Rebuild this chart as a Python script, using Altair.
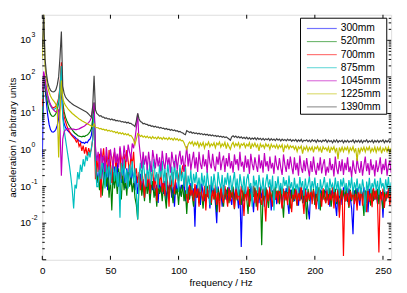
import altair as alt
import pandas as pd

# frequency grid (Hz), 1 Hz steps
FREQ = list(range(0, 257))

SERIES = ["300mm", "520mm", "700mm", "875mm", "1045mm", "1225mm", "1390mm"]
COLORS = ["#0000ff", "#008000", "#ff0000", "#00bfbf", "#bf00bf", "#bfbf00", "#404040"]

# log10 of acceleration amplitude (0..40 Hz, then 41..256 Hz)
LOG_300 = [
    -0.2, 2.0, 1.7, 1.3, 0.95, 0.7, 0.56, 0.5, 0.49, 0.51, 0.57, 0.68, 0.86, 1.2, 1.7, 0.95, 0.72, 0.62, 0.56, 0.52,
    0.48, 0.45, 0.41, 0.38, 0.35, 0.31, 0.29, 0.25, 0.24, 0.2, 0.21, 0.18, 0.22, 0.2, 0.27, 0.3, 0.4, 0.7, 1.2, -0.3, -0.6,
    -0.90, -0.45, -1.05, -0.60, -0.35, -0.85, -0.50, -1.10, -0.40, -0.75, -0.55, -0.95,
    -0.45, -0.80, -0.35, -1.00, -0.60, -0.90, -0.40, -0.70, -1.05, -0.50, -0.85, -0.45,
    -0.95, -0.55, -0.80, -1.10, -0.70, -1.20, -0.90, -0.65, -1.15, -0.80, -1.30, -0.75,
    -1.05, -0.80, -1.35, -0.85, -1.10, -0.75, -1.25, -0.95, -1.45, -0.82, -1.15, -0.90,
    -1.20, -0.85, -1.40, -0.95, -1.10, -0.80, -1.30, -1.00, -1.55, -0.88, -1.18, -0.92,
    -1.25, -0.95, -1.10, -0.85, -1.40, -1.20, -1.00, -1.35, -0.90, -1.25, -1.05, -2.10,
    -0.95, -1.30, -1.05, -1.50, -0.92, -1.20, -1.40, -0.98, -1.28, -1.10, -1.60, -0.95,
    -1.25, -1.05, -1.45, -2.00, -1.00, -1.30, -1.12, -1.55, -0.96, -1.35, -1.08, -1.42,
    -1.00, -1.28, -1.50, -1.05, -1.35, -0.98, -1.22, -1.60, -1.08, -2.65, -1.15, -1.40,
    -1.02, -1.30, -1.10, -1.48, -0.98, -1.25, -1.70, -1.05, -1.35, -1.12, -1.45, -1.00,
    -1.32, -1.08, -1.55, -1.02, -1.28, -1.40, -1.00, -1.65, -1.10, -1.30, -1.05, -1.48,
    -1.12, -1.36, -1.00, -1.58, -1.15, -1.30, -1.04, -1.42, -1.75, -1.08, -1.32, -1.02,
    -1.40, -1.06, -1.28, -1.52, -1.02, -1.35, -1.10, -1.45, -1.05, -1.30, -1.60, -1.90,
    -1.05, -1.35, -1.12, -1.48, -1.00, -1.30, -1.62, -1.08, -1.40, -1.15, -1.28, -1.02,
    -1.38, -1.06, -1.55, -1.10, -1.30, -1.04, -1.45, -1.80, -1.08, -1.32, -1.12, -1.50,
    -1.02, -1.35, -1.15, -1.42, -1.05, -1.30, -1.60, -2.30, -1.10, -1.38, -1.04, -1.28,
    -1.52, -1.08, -1.35, -1.02, -1.45, -1.12, -1.70, -1.06, -1.30, -1.40, -1.04, -1.36,
    -1.10, -1.48, -1.02, -1.32, -1.15, -1.85, -1.06, -1.40, -1.12, -1.28, -1.05, -1.42,
]
LOG_520 = [
    0.8, 2.0, 1.8, 1.5, 1.25, 1.08, 0.98, 0.93, 0.92, 0.94, 1.0, 1.1, 1.3, 1.65, 2.3, 1.3, 1.05, 0.9, 0.8, 0.72,
    0.65, 0.6, 0.55, 0.5, 0.46, 0.43, 0.4, 0.38, 0.37, 0.36, 0.38, 0.37, 0.4, 0.41, 0.45, 0.5, 0.58, 0.85, 1.3, -0.2, -0.9,
    -0.70, -1.10, -0.55, -1.25, -0.80, -0.45, -1.00, -0.65, -1.30, -0.75, -1.65, -0.60,
    -1.05, -0.70, -1.20, -0.50, -0.95, -1.35, -0.65, -1.10, -0.80, -1.25, -0.60, -1.00,
    -0.75, -1.15, -0.85, -1.30, -1.50, -1.90, -1.00, -0.80, -1.25, -0.90, -1.40, -0.85,
    -1.20, -0.90, -1.45, -1.00, -0.85, -1.30, -1.05, -1.55, -0.92, -1.20, -1.00, -1.40,
    -0.95, -1.25, -1.60, -1.00, -1.30, -0.90, -1.15, -1.45, -0.98, -1.22, -1.05, -1.50,
    -1.00, -1.28, -0.95, -1.40, -1.10, -1.75, -1.05, -1.35, -0.98, -1.25, -1.55, -1.02,
    -1.30, -1.05, -1.45, -1.00, -1.25, -1.60, -1.08, -1.38, -0.98, -1.32, -1.12, -1.50,
    -1.02, -1.35, -1.15, -1.70, -1.05, -1.40, -1.00, -1.28, -1.55, -1.08, -1.36, -1.02,
    -1.45, -1.10, -1.30, -1.00, -1.62, -1.12, -1.38, -1.05, -1.25, -1.50, -1.02, -1.40,
    -1.08, -1.32, -1.75, -1.06, -1.40, -1.15, -1.28, -1.02, -1.55, -1.10, -1.35, -1.05,
    -2.60, -1.15, -1.40, -1.02, -1.30, -1.58, -1.08, -1.36, -1.12, -1.45, -1.00, -1.30,
    -1.10, -1.48, -1.05, -1.35, -1.85, -1.12, -1.38, -1.04, -1.28, -1.60, -1.08, -1.42,
    -1.05, -1.30, -1.52, -1.10, -1.38, -1.02, -1.45, -1.15, -1.32, -1.90, -1.06, -1.40,
    -1.12, -1.35, -1.05, -1.50, -1.18, -1.40, -1.02, -1.65, -1.10, -1.36, -1.08, -1.45,
    -1.15, -1.38, -1.04, -1.55, -1.20, -1.32, -1.06, -1.48, -1.12, -1.70, -1.05, -1.35,
    -1.10, -1.42, -1.02, -1.30, -1.58, -1.08, -1.40, -1.15, -1.35, -1.05, -1.50, -1.12,
    -1.38, -1.04, -1.32, -1.80, -1.10, -1.45, -1.06, -1.30, -1.52, -1.08, -1.40, -1.12,
    -1.35, -1.06, -1.48, -1.10, -1.32, -1.62, -1.05, -1.40, -1.15, -1.30, -1.08, -1.45,
]
LOG_700 = [
    1.2, 2.05, 1.85, 1.6, 1.42, 1.3, 1.22, 1.18, 1.16, 1.17, 1.2, 1.28, 1.42, 1.75, 2.4, 1.2, 0.92, 0.78, 0.66, 0.57,
    0.5, 0.43, 0.38, 0.34, 0.3, 0.22, 0.28, 0.1, 0.18, -0.02, 0.12, -0.1, 0.08, -0.15, 0.05, -0.08, 0.02, 0.3, 0.9, -0.8, -0.2,
    -0.60, -0.10, -1.30, -0.25, 0.05, -0.45, -0.15, -0.70, 0.00, -0.35, -0.90, -0.20,
    -0.05, -0.55, -0.15, -0.40, 0.05, -0.80, -0.25, -0.10, -0.50, 0.00, -0.30, -0.65,
    -0.15, -0.40, -0.05, -0.70, -0.50, -0.90, -0.60, -1.10, -0.55, -0.85, -1.30, -0.65,
    -1.00, -0.60, -1.20, -0.75, -0.55, -1.05, -0.70, -1.40, -0.65, -0.95, -0.58, -1.15,
    -0.80, -1.25, -0.62, -0.90, -1.55, -0.70, -1.00, -0.60, -1.20, -0.75, -0.55, -0.85,
    -0.50, -0.70, -0.42, -0.60, -0.40, -1.30, -1.45, -0.95, -1.25, -1.00, -1.40, -0.92,
    -1.30, -1.00, -1.55, -0.95, -1.20, -1.40, -0.98, -1.65, -1.05, -1.30, -0.95, -1.45,
    -1.10, -1.35, -0.96, -1.50, -1.15, -1.70, -1.00, -1.30, -1.45, -0.98, -1.25, -1.55,
    -1.05, -1.40, -0.97, -1.30, -1.60, -1.02, -1.35, -1.15, -1.50, -0.98, -1.25, -1.80,
    -1.08, -1.38, -1.00, -1.55, -1.20, -1.32, -0.98, -1.45, -1.10, -1.65, -1.02, -1.30,
    -1.50, -1.05, -1.35, -1.95, -1.08, -1.40, -1.00, -1.28, -1.55, -1.06, -1.36, -1.12,
    -1.45, -1.02, -1.30, -1.60, -1.05, -1.38, -1.15, -1.50, -0.98, -1.32, -1.70, -1.08,
    -1.35, -1.05, -1.52, -1.12, -1.40, -1.00, -1.30, -1.75, -1.08, -1.42, -1.15, -1.36,
    -1.02, -1.48, -1.10, -1.35, -1.62, -1.05, -1.40, -1.18, -1.55, -1.04, -1.32, -1.45,
    -1.08, -1.50, -1.20, -1.38, -1.02, -1.60, -1.15, -1.42, -1.06, -1.85, -1.25, -1.10,
    -2.90, -1.20, -1.40, -1.05, -1.55, -1.12, -1.36, -1.02, -1.48, -1.20, -1.65, -1.08,
    -1.38, -1.05, -1.52, -1.15, -1.30, -1.70, -1.06, -1.42, -1.18, -1.56, -1.04, -1.35,
    -1.10, -1.45, -2.80, -1.12, -1.38, -1.05, -1.58, -1.20, -1.32, -1.04, -1.50, -1.15,
]
LOG_875 = [
    1.4, 2.1, 1.9, 1.65, 1.45, 1.32, 1.22, 1.15, 1.12, 1.12, 1.15, 1.22, 1.35, 1.7, 2.3, 0.9, 0.55, 0.3, 0.05, -0.2,
    -0.45, -0.75, -1.1, -1.6, -0.95, -1.05, -0.6, -0.8, -0.4, -0.6, -0.25, -0.45, -0.15, -0.3, -0.05, -0.2, 0.05, 0.3, 1.0, -0.4, -1.0,
    -1.00, -0.35, -0.80, -0.20, -0.65, -1.05, -0.40, -0.75, -0.25, -0.95, -0.50, -0.30,
    -0.85, -0.45, -1.00, -0.60, -1.85, -0.35, -0.70, -0.25, -0.90, -0.55, -1.05, -0.40,
    -0.75, -0.30, -0.90, -0.50, -1.20, -1.90, -0.70, -0.35, -0.85, -0.25, -0.65, -1.00,
    -0.45, -0.80, -0.30, -0.95, -0.55, -0.25, -0.85, -0.60, -1.05, -0.40, -0.75, -0.30,
    -0.90, -0.50, -1.10, -0.35, -0.70, -0.95, -0.45, -1.00, -0.30, -0.80, -0.55, -1.15,
    -0.40, -0.85, -0.60, -1.00, -0.45, -1.20, -0.70, -0.95, -0.55, -1.10, -0.65, -0.90,
    -0.60, -1.05, -0.75, -1.15, -0.62, -0.98, -0.70, -1.20, -0.58, -0.90, -1.50, -0.72,
    -1.10, -0.65, -0.95, -1.18, -0.60, -0.88, -1.05, -0.68, -1.22, -0.75, -0.95, -0.62,
    -1.00, -0.70, -1.15, -0.85, -0.60, -1.08, -0.78, -1.25, -0.66, -0.92, -1.10, -0.72,
    -1.20, -0.80, -0.65, -1.05, -0.90, -1.55, -0.70, -1.00, -0.82, -1.18, -0.68, -0.95,
    -1.10, -0.75, -1.25, -0.88, -0.66, -1.02, -0.80, -1.15, -0.70, -1.65, -0.85, -1.05,
    -0.72, -1.12, -0.90, -1.20, -0.74, -0.98, -0.82, -1.15, -0.70, -1.05, -0.88, -1.22,
    -0.76, -1.08, -0.92, -1.18, -0.74, -1.02, -0.85, -1.25, -0.78, -1.10, -0.95, -0.72,
    -1.15, -0.85, -1.05, -0.75, -1.20, -0.90, -1.60, -0.80, -1.08, -0.95, -0.74, -1.12,
    -0.88, -1.20, -0.78, -1.02, -0.92, -1.15, -0.75, -1.10, -0.85, -1.25, -0.80, -1.00,
    -0.76, -1.12, -0.90, -1.18, -0.82, -1.05, -0.74, -1.22, -0.88, -1.08, -0.78, -1.15,
    -0.92, -1.20, -0.80, -1.06, -1.70, -0.86, -1.12, -0.76, -1.18, -0.90, -1.04, -0.78,
    -1.10, -0.84, -1.22, -0.76, -1.00, -0.90, -1.15, -0.80, -1.08, -0.74, -1.20, -0.88,
]
LOG_1045 = [
    1.6, 2.15, 1.95, 1.7, 1.5, 1.35, 1.25, 1.17, 1.11, 1.07, 1.05, 1.05, 1.1, 0.6, -0.7, 0.3, 0.5, 0.55, 0.57, 0.58,
    0.58, 0.58, 0.57, 0.57, 0.56, 0.56, 0.57, 0.58, 0.6, 0.62, 0.64, 0.66, 0.69, 0.72, 0.75, 0.8, 0.88, 1.1, 1.3, 0.1, -0.3,
    -0.05, -0.55, 0.05, -0.35, -0.15, -0.60, 0.08, -0.30, -0.45, 0.02, -0.25, -0.50,
    0.06, -0.35, -0.10, -0.48, 0.10, -0.20, -0.40, 0.12, -0.15, -0.32, 0.15, -0.05,
    -0.25, 0.18, 0.05, 0.30, 0.60, 1.00, 0.20, -0.15, -0.50, -0.05, -0.40, -0.15,
    -0.55, -0.05, -0.35, -0.60, 0.00, -0.25, -0.50, -0.10, -0.45, -0.20, -0.58, -0.02,
    -0.35, -0.52, -0.08, -0.40, -0.20, -0.62, -0.05, -0.30, -0.48, -0.12, -0.55, -0.22,
    -0.02, -0.40, -0.15, -0.58, -0.25, 0.10, -0.45, -0.10, -0.55, -0.28, -0.05, -0.50,
    -0.20, -0.60, -0.05, -0.38, -0.52, -0.12, -0.45, -0.25, -0.62, 0.00, -0.35, -0.50,
    -0.10, -0.42, -0.58, -0.18, -0.40, -0.05, -0.55, -0.30, -0.15, -0.60, -0.22, -0.45,
    -0.08, -0.50, -0.30, -0.62, -0.12, -0.40, -0.25, -0.56, -0.05, -0.45, -0.32, -0.60,
    -0.15, -0.48, -0.25, -0.65, -0.10, -0.38, -0.55, -0.20, -0.42, -0.60, -0.12, -0.50,
    -0.28, -0.62, -0.08, -0.45, -0.30, -0.58, -0.18, -0.50, -0.35, -0.65, -0.15, -0.42,
    -0.55, -0.22, -0.48, -0.68, -0.12, -0.40, -0.60, -0.25, -0.52, -0.18, -0.45, -0.66,
    -0.20, -0.55, -0.35, -0.70, -0.15, -0.48, -0.62, -0.28, -0.58, -0.22, -0.50, -0.72,
    -0.30, -0.60, -0.18, -0.52, -0.68, -0.35, -0.56, -0.20, -0.64, -0.40, -0.25, -0.70,
    -0.45, -0.62, -0.22, -0.55, -0.38, -0.72, -0.18, -0.50, -0.66, -0.30, -0.58, -0.25,
    -0.68, -0.35, -0.55, -0.20, -0.60, -0.45, -0.74, -0.28, -0.52, -0.65, -0.22, -0.48,
    -0.62, -0.30, -0.70, -0.42, -0.18, -0.58, -0.36, -0.68, -0.25, -0.55, -0.40, -0.72,
    -0.28, -0.60, -0.45, -0.20, -0.66, -0.38, -0.55, -0.24, -0.70, -0.42, -0.30, -0.62,
]
LOG_1225 = [
    2.5, 3.75, 2.3, 1.95, 1.72, 1.58, 1.48, 1.41, 1.36, 1.31, 1.25, 1.1, -0.2, 1.0, 1.9, 1.4, 1.3, 1.22, 1.17, 1.12,
    1.08, 1.04, 1.0, 0.97, 0.94, 0.91, 0.88, 0.85, 0.83, 0.8, 0.78, 0.76, 0.74, 0.72, 0.7, 0.68, 0.66, 0.64, 0.72, 0.62, 0.61,
    0.61, 0.58, 0.59, 0.56, 0.57, 0.54, 0.56, 0.52, 0.54, 0.51, 0.53, 0.49,
    0.51, 0.47, 0.50, 0.45, 0.48, 0.44, 0.47, 0.42, 0.45, 0.41, 0.44, 0.39,
    0.40, 0.35, 0.28, 0.15, 0.30, 0.45, 0.42, 0.37, 0.40, 0.35, 0.38, 0.34,
    0.38, 0.33, 0.36, 0.31, 0.37, 0.32, 0.35, 0.30, 0.36, 0.31, 0.34, 0.29,
    0.35, 0.30, 0.33, 0.28, 0.34, 0.29, 0.32, 0.27, 0.33, 0.28, 0.31, 0.26,
    0.30, 0.25, 0.26, 0.20, 0.10, 0.02, 0.15, 0.22, 0.17, 0.23, 0.12, 0.21,
    0.14, 0.22, 0.08, 0.19, 0.12, 0.21, 0.05, 0.18, 0.13, 0.22, 0.09, 0.17,
    0.12, 0.20, 0.06, 0.19, 0.14, 0.22, 0.08, 0.17, 0.11, 0.21, 0.04, 0.18,
    0.10, 0.02, 0.15, 0.21, 0.09, 0.18, 0.12, 0.20, 0.06, 0.17, 0.13, 0.19,
    0.07, 0.16, 0.11, 0.20, 0.03, 0.17, 0.10, 0.19, 0.08, 0.15, -0.02, 0.17,
    0.09, 0.14, 0.05, 0.17, 0.10, 0.15, 0.02, 0.16, 0.08, 0.13, 0.06, 0.15,
    0.04, 0.13, 0.07, 0.15, -0.06, 0.12, 0.06, 0.14, 0.03, 0.12, 0.07, 0.11,
    0.02, 0.10, -0.04, 0.09, 0.04, 0.11, -0.10, 0.08, 0.01, 0.10, -0.03, 0.07,
    0.00, 0.09, -0.06, 0.08, 0.03, 0.10, -0.02, 0.07, -0.07, 0.09, 0.02, 0.06,
    -0.02, 0.08, -0.08, 0.07, 0.01, 0.09, -0.05, 0.06, -0.25, 0.07, -0.03, 0.08,
    -0.04, 0.07, 0.00, 0.08, -0.07, 0.06, -0.01, 0.09, -0.05, 0.05, -0.30, 0.06,
    -0.08, 0.06, -0.02, 0.08, -0.05, 0.07, 0.00, 0.09, -0.06, 0.05, -0.03, 0.08,
    -0.06, 0.07, -0.01, 0.08, -0.09, 0.05, -0.02, 0.07, -0.04, 0.08, -0.07, 0.06,
]
LOG_1390 = [
    2.8, 3.75, 2.5, 2.1, 1.85, 1.72, 1.64, 1.6, 1.59, 1.6, 1.65, 1.78, 2.0, 2.55, 3.24, 1.75, 1.55, 1.45, 1.4, 1.36,
    1.32, 1.29, 1.26, 1.23, 1.21, 1.19, 1.17, 1.15, 1.13, 1.11, 1.09, 1.07, 1.05, 1.02, 0.98, 0.94, 0.9, 1.2, 2.03, 1.1, 1.0,
    0.97, 0.93, 0.94, 0.90, 0.90, 0.87, 0.88, 0.85, 0.86, 0.83, 0.85, 0.82,
    0.83, 0.80, 0.81, 0.79, 0.80, 0.77, 0.78, 0.76, 0.77, 0.74, 0.76, 0.73,
    0.73, 0.70, 0.68, 0.64, 0.80, 1.00, 0.85, 0.78, 0.76, 0.72, 0.73, 0.70,
    0.70, 0.67, 0.68, 0.65, 0.66, 0.63, 0.65, 0.62, 0.63, 0.60, 0.62, 0.59,
    0.60, 0.57, 0.59, 0.56, 0.57, 0.54, 0.56, 0.53, 0.55, 0.52, 0.53, 0.50,
    0.51, 0.48, 0.47, 0.44, 0.42, 0.53, 0.51, 0.48, 0.50, 0.46, 0.48, 0.45,
    0.47, 0.44, 0.46, 0.43, 0.45, 0.42, 0.44, 0.41, 0.43, 0.40, 0.42, 0.39,
    0.41, 0.38, 0.40, 0.37, 0.39, 0.36, 0.38, 0.35, 0.37, 0.34, 0.36, 0.33,
    0.30, 0.27, 0.36, 0.39, 0.35, 0.38, 0.34, 0.37, 0.33, 0.36, 0.32, 0.35,
    0.31, 0.35, 0.30, 0.34, 0.29, 0.33, 0.30, 0.34, 0.28, 0.33, 0.29, 0.32,
    0.28, 0.32, 0.27, 0.31, 0.28, 0.32, 0.26, 0.31, 0.27, 0.30, 0.26, 0.31,
    0.27, 0.30, 0.25, 0.30, 0.26, 0.29, 0.25, 0.30, 0.26, 0.29, 0.24, 0.28,
    0.25, 0.29, 0.23, 0.28, 0.24, 0.29, 0.22, 0.27, 0.25, 0.28, 0.23, 0.27,
    0.22, 0.28, 0.24, 0.27, 0.21, 0.28, 0.23, 0.26, 0.22, 0.27, 0.24, 0.28,
    0.21, 0.27, 0.23, 0.26, 0.20, 0.27, 0.22, 0.28, 0.21, 0.26, 0.23, 0.27,
    0.20, 0.26, 0.22, 0.27, 0.21, 0.25, 0.23, 0.28, 0.20, 0.26, 0.22, 0.27,
    0.21, 0.27, 0.20, 0.26, 0.23, 0.28, 0.21, 0.25, 0.22, 0.27, 0.20, 0.26,
    0.22, 0.27, 0.21, 0.26, 0.23, 0.28, 0.20, 0.26, 0.22, 0.27, 0.21, 0.26,
]

ALL_LOGS = [LOG_300, LOG_520, LOG_700, LOG_875, LOG_1045, LOG_1225, LOG_1390]

X_TICKS = [0, 50, 100, 150, 200, 250]
Y_MAJOR = [1e-3, 1e-2, 1e-1, 1, 10, 100, 1000]
Y_LABEL_EXP = ["-2", "-1", "0", "1", "2", "3"]
Y_LABEL_VAL = [1e-2, 1e-1, 1, 10, 100, 1000]

rows = []
for name, logs in zip(SERIES, ALL_LOGS):
    assert len(logs) == len(FREQ), (name, len(logs))
    for f, v in zip(FREQ, logs):
        rows.append({"f": f, "a": 10 ** v, "s": name})
df = pd.DataFrame(rows)

minor = []
for e in range(-3, 4):
    for k in range(2, 10):
        val = k * 10 ** e
        if val < 5000:
            minor.append(val)

FONT = "Liberation Sans"
W, H = 356, 250

xscale = alt.Scale(domain=[0, 256], nice=False, zero=False)
yscale = alt.Scale(type="log", domain=[0.001, 5000], nice=False)

lines = alt.Chart(df).mark_line(strokeWidth=1.2, clip=True).encode(
    x=alt.X("f:Q", scale=xscale, axis=alt.Axis(
        values=X_TICKS, ticks=False, domain=False, grid=False, labelPadding=6,
        labelFontSize=10, labelFont=FONT, labelFlush=False, labelColor="black",
        title="frequency / Hz", titleFontSize=10, titleFont=FONT, titleFontWeight="normal",
        titleColor="black", titleX=182, titleY=18, titleBaseline="top")),
    y=alt.Y("a:Q", scale=yscale, axis=alt.Axis(
        labels=False, ticks=False, domain=False, grid=False,
        title="acceleration / arbitrary units", titleFontSize=10, titleFont=FONT,
        titleFontWeight="normal", titleColor="black", titleX=-30, titleY=125,
        titleAngle=-90, titleBaseline="middle", titleAlign="center")),
    color=alt.Color("s:N", scale=alt.Scale(domain=SERIES, range=COLORS), legend=None),
)

xt = pd.DataFrame({"f": X_TICKS})
ymaj = pd.DataFrame({"a": Y_MAJOR})
ymin = pd.DataFrame({"a": minor})
ylab = pd.DataFrame({"a": Y_LABEL_VAL, "exp": Y_LABEL_EXP, "base": ["10"] * 6})

tick_b = alt.Chart(xt).mark_rule(color="black", strokeWidth=1).encode(
    x=alt.X("f:Q", scale=xscale), y=alt.value(H), y2=alt.value(H - 4))
tick_t = alt.Chart(xt).mark_rule(color="black", strokeWidth=1).encode(
    x=alt.X("f:Q", scale=xscale), y=alt.value(0), y2=alt.value(4))
tick_l = alt.Chart(ymaj).mark_rule(color="black", strokeWidth=1).encode(
    y=alt.Y("a:Q", scale=yscale), x=alt.value(0), x2=alt.value(4))
tick_r = alt.Chart(ymaj).mark_rule(color="black", strokeWidth=1).encode(
    y=alt.Y("a:Q", scale=yscale), x=alt.value(W - 4), x2=alt.value(W))
mtick_l = alt.Chart(ymin).mark_rule(color="black", strokeWidth=1).encode(
    y=alt.Y("a:Q", scale=yscale), x=alt.value(0), x2=alt.value(2.5))
mtick_r = alt.Chart(ymin).mark_rule(color="black", strokeWidth=1).encode(
    y=alt.Y("a:Q", scale=yscale), x=alt.value(W - 2.5), x2=alt.value(W))

lab_base = alt.Chart(ylab).mark_text(align="right", baseline="middle", fontSize=10,
                                     font=FONT, color="black").encode(
    y=alt.Y("a:Q", scale=yscale), x=alt.value(-11.5), text="base:N")
lab_exp = alt.Chart(ylab).mark_text(align="left", baseline="middle", fontSize=7,
                                    font=FONT, color="black", dy=-5).encode(
    y=alt.Y("a:Q", scale=yscale), x=alt.value(-11), text="exp:N")

# legend box drawn as marks (top-right, inside the plot)
one = pd.DataFrame({"k": [0]})
layers = [lines, tick_b, tick_t, tick_l, tick_r, mtick_l, mtick_r, lab_base, lab_exp]
layers.append(alt.Chart(one).mark_rect(fill="white", stroke="black", strokeWidth=1).encode(
    x=alt.value(263.5), x2=alt.value(351.5), y=alt.value(3.5), y2=alt.value(101.5)))
for i, (name, col) in enumerate(zip(SERIES, COLORS)):
    yy = 14 + 13.33 * i
    layers.append(alt.Chart(one).mark_rule(strokeWidth=1.2, opacity=0.55).encode(
        x=alt.value(270), x2=alt.value(300.5), y=alt.value(yy), color=alt.value(col)))
    layers.append(alt.Chart(one).mark_text(align="left", baseline="middle", fontSize=10.5,
                                           font=FONT, color="black").encode(
        x=alt.value(304.5), y=alt.value(yy), text=alt.value(name)))

chart = alt.layer(*layers).properties(
    width=W, height=H,
    autosize=alt.AutoSizeParams(type="none"),
    padding={"left": 35, "top": 4, "right": 8, "bottom": 31},
).configure_view(stroke="black", strokeWidth=1).configure(background="white")

chart.save("out.html", embed_options={"renderer": "svg", "actions": False})
